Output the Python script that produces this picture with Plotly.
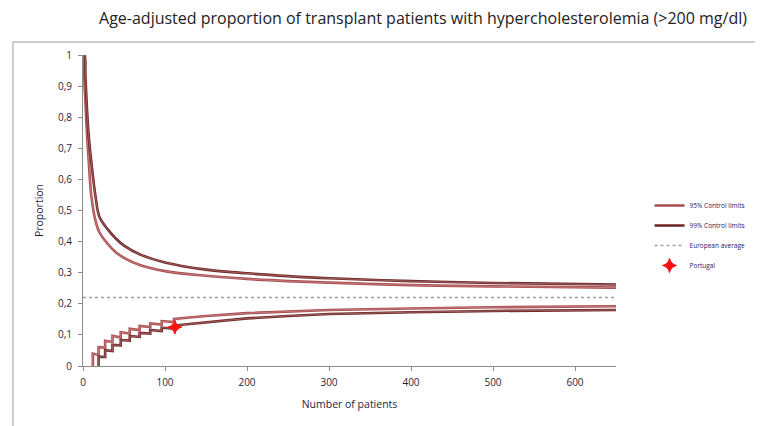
import plotly.graph_objects as go

# ---- data ----
n_upper = [1, 2, 3, 5, 7, 10, 15, 20, 30, 40, 50, 70, 100, 150, 200, 250, 300, 400, 500, 650]
upper99 = [1.0, 1.0, 0.93, 0.82, 0.74, 0.66, 0.55, 0.48, 0.44, 0.41, 0.387, 0.358, 0.333, 0.31, 0.298, 0.289, 0.282, 0.273, 0.267, 0.262]
upper95 = [1.0, 0.90, 0.85, 0.74, 0.66, 0.55, 0.47, 0.43, 0.393, 0.366, 0.348, 0.324, 0.305, 0.29, 0.28, 0.273, 0.268, 0.26, 0.256, 0.252]

# lower limits (saw-tooth at small n, as drawn in the reference)
n_low95 = [12, 12, 19, 19, 27, 27, 36, 36, 46, 46, 57, 57, 69, 69, 82, 82, 96, 96, 111, 111,
           130, 150, 200, 250, 300, 400, 500, 650]
low95 = [0.0, 0.040, 0.0355, 0.0605, 0.059, 0.081, 0.077, 0.097, 0.0915, 0.1085, 0.1045, 0.1195,
         0.1155, 0.1285, 0.125, 0.137, 0.1335, 0.1445, 0.141, 0.151,
         0.156, 0.161, 0.170, 0.176, 0.180, 0.185, 0.189, 0.192]
n_low99 = [19, 19, 27, 27, 36, 36, 46, 46, 57, 57, 69, 69, 82, 82, 96, 96, 111, 111,
           130, 150, 200, 250, 300, 400, 500, 650]
low99 = [0.0, 0.030, 0.029, 0.051, 0.048, 0.068, 0.0665, 0.0835, 0.0815, 0.0965, 0.0935, 0.1065,
         0.104, 0.116, 0.1125, 0.1235, 0.120, 0.130,
         0.135, 0.140, 0.153, 0.161, 0.167, 0.173, 0.177, 0.180]

euro_n = [0, 650]
euro_avg = [0.22, 0.22]

portugal_n = [112]
portugal_val = [0.125]

x_ticks = [0, 100, 200, 300, 400, 500, 600]
y_ticks = [0, 0.1, 0.2, 0.3, 0.4, 0.5, 0.6, 0.7, 0.8, 0.9, 1.0]

# ---- styling ----
C95 = "#a84a4c"
C99 = "#6e2424"
HI = "rgba(245,205,205,0.5)"
FONT = "Open Sans"
TXT = "#1f1f3f"

fig = go.Figure()


def add_limit(x, y, name, group, color, legend, shape):
    fig.add_trace(go.Scatter(x=x, y=y, mode="lines", name=name, legendgroup=group,
                             showlegend=legend, line=dict(color=color, width=2.6, shape=shape)))
    fig.add_trace(go.Scatter(x=x, y=y, mode="lines", name=name, legendgroup=group,
                             showlegend=False, hoverinfo="skip",
                             line=dict(color=HI, width=0.7, shape=shape)))


add_limit(n_upper, upper95, "95% Control limits", "g95", C95, True, "spline")
add_limit(n_low95, low95, "95% Control limits", "g95", C95, False, "linear")
add_limit(n_upper, upper99, "99% Control limits", "g99", C99, True, "spline")
add_limit(n_low99, low99, "99% Control limits", "g99", C99, False, "linear")

fig.add_trace(go.Scatter(x=euro_n, y=euro_avg, mode="lines", name="European average",
                         legendgroup="geu", line=dict(color="#a0a0a0", width=1.5, dash="dot")))
fig.add_trace(go.Scatter(x=portugal_n, y=portugal_val, mode="markers", name="Portugal",
                         legendgroup="gpt",
                         marker=dict(symbol="star-diamond", size=10, color="#ff1010",
                                     line=dict(width=1, color="#ff1010"))))

# page body adds an 8px offset, so the figure is drawn 8px smaller
OFF = 8
W, H = 763 - OFF, 426 - OFF
ml, mr, mt, mb = 75, 140, 47, 60
pw, ph = W - ml - mr, H - mt - mb


def px2x(px):
    return (px - OFF - ml) / pw


def py2y(py):
    return (H - mb - (py - OFF)) / ph


axis_common = dict(showgrid=False, zeroline=False, showline=True, linecolor="#8c8c8c",
                   linewidth=1, ticks="outside", ticklen=4, tickcolor="#8c8c8c",
                   tickfont=dict(family=FONT, size=10, color=TXT))

fig.update_layout(
    width=W, height=H,
    margin=dict(l=ml, r=mr, t=mt, b=mb),
    paper_bgcolor="white", plot_bgcolor="white",
    separators=",.",
    title=dict(text="Age-adjusted proportion of transplant patients with hypercholesterolemia (>200 mg/dl)",
               x=(423 - OFF) / W, xanchor="center", xref="container",
               y=1 - (18 - OFF) / H, yanchor="middle", yref="container",
               font=dict(family=FONT, size=16, color="#222222")),
    xaxis=dict(range=[0, 650], tickvals=x_ticks, ticklabelstandoff=3,
               title=dict(text="Number of patients", standoff=12,
                          font=dict(family=FONT, size=10.5, color=TXT)),
               **axis_common),
    yaxis=dict(range=[0, 1], tickvals=y_ticks, ticklabelstandoff=4,
               title=dict(text="Proportion", standoff=12,
                          font=dict(family=FONT, size=10.5, color=TXT)),
               **axis_common),
    showlegend=True,
    legend=dict(x=px2x(657), xanchor="left", y=py2y(191), yanchor="top",
                font=dict(family=FONT, size=6.5, color="#1a1a5a"),
                bgcolor="rgba(0,0,0,0)", tracegroupgap=1),
    shapes=[dict(type="rect", xref="paper", yref="paper",
                 x0=px2x(12), x1=px2x(800), y0=py2y(470), y1=py2y(42),
                 line=dict(color="#bdbdbd", width=1.5), fillcolor="rgba(0,0,0,0)", layer="below")],
)

fig.write_html("out.html")
